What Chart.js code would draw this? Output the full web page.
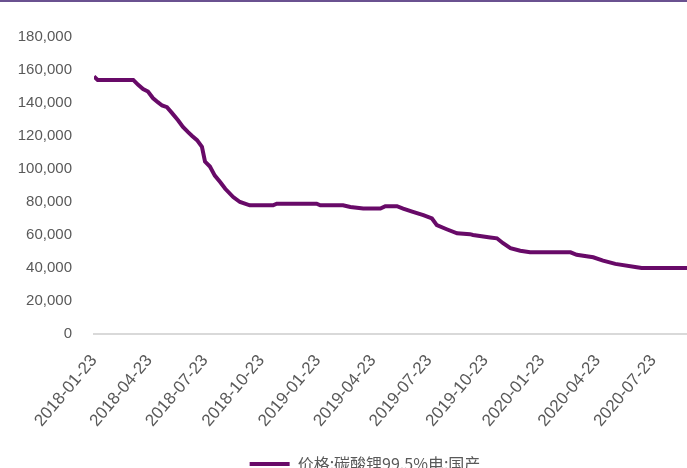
<!DOCTYPE html>
<html><head><meta charset="utf-8">
<script src="https://cdn.jsdelivr.net/npm/chart.js@4/dist/chart.umd.min.js"></script>
<style>
html,body{margin:0;padding:0;width:687px;height:468px;overflow:hidden;background:#fff;}
#wrap{position:relative;width:687px;height:468px;overflow:hidden;}
#c{position:absolute;left:0;top:0;}
#topline{position:absolute;left:0;top:0;width:687px;height:2px;background:#6a5190;}
</style></head><body>
<div id="wrap"><canvas id="c" width="730" height="482"></canvas><div id="topline"></div></div>
<script>
const seriesName = '价格:碳酸锂99.5%电:国产';
const dates = ['2018-01-23','2018-01-29','2018-03-28','2018-04-05','2018-04-13','2018-04-21','2018-04-29','2018-05-07','2018-05-14','2018-05-22','2018-05-30','2018-06-09','2018-06-17','2018-06-25','2018-07-02','2018-07-10','2018-07-18','2018-07-23','2018-07-31','2018-08-08','2018-08-17','2018-08-25','2018-09-07','2018-09-18','2018-10-04','2018-11-11','2018-11-17','2019-01-21','2019-01-27','2019-03-05','2019-03-17','2019-04-07','2019-05-05','2019-05-13','2019-06-01','2019-06-11','2019-06-27','2019-07-14','2019-07-28','2019-08-05','2019-08-21','2019-09-07','2019-09-28','2019-10-03','2019-10-31','2019-11-11','2019-11-21','2019-12-03','2019-12-19','2020-01-04','2020-03-10','2020-03-20','2020-04-16','2020-05-02','2020-05-22','2020-06-26','2020-07-04','2020-09-18'];
const prices = [156000,154000,154000,151000,148500,147000,143000,140500,138500,137500,134000,129500,125500,122500,120000,117500,113500,104500,101500,96000,92000,88000,83000,80000,78000,78000,79000,79000,78000,78000,77000,76000,76000,77500,77500,76000,74000,72000,70000,66000,63500,61000,60500,60000,58500,58000,55000,52000,50500,49500,49500,48000,46500,44500,42500,40500,40000,40000];
const tickDates = ['2018-01-23','2018-04-23','2018-07-23','2018-10-23','2019-01-23','2019-04-23','2019-07-23','2019-10-23','2020-01-23','2020-04-23','2020-07-23'];
const yTicks = [0,20000,40000,60000,80000,100000,120000,140000,160000,180000];

const origin = Date.UTC(2018,0,23);
function dayOf(s){const p=s.split('-').map(Number);return Math.round((Date.UTC(p[0],p[1]-1,p[2])-origin)/86400000);}
const points = dates.map((d,i)=>({x:dayOf(d), y:prices[i]}));
const tickDays = tickDates.map(dayOf);
const LINE = '#680a68';
const TXT = '#595959';

new Chart(document.getElementById('c'), {
  type:'line',
  data:{datasets:[{label:seriesName,data:points,borderColor:LINE,backgroundColor:LINE,borderWidth:4,pointRadius:0,tension:0,pointStyle:'line'}]},
  options:{
    responsive:false,animation:false,
    layout:{padding:{top:37,left:0,right:0,bottom:0}},
    plugins:{
      tooltip:{enabled:false},
      legend:{position:'bottom',align:'center',
        labels:{usePointStyle:true,pointStyle:'line',pointStyleWidth:40,color:TXT,padding:10,
          font:{family:'"Noto Sans CJK SC", "Liberation Sans", sans-serif',size:16}}}
    },
    scales:{
      x:{type:'linear',min:0,max:1037,
        grid:{display:false},
        border:{display:true,color:'#d9d9d9',width:2},
        afterBuildTicks(s){s.ticks=tickDays.map(v=>({value:v}));},
        afterFit(s){s.paddingLeft=0;s.paddingRight=0;s.height=s.chart.height-s.chart.legend.height-334;},
        ticks:{autoSkip:false,maxRotation:50,minRotation:50,padding:9,color:TXT,
          font:{family:'"Liberation Sans", sans-serif',size:17},
          callback(v){const i=tickDays.indexOf(v);return i>=0?tickDates[i]:'';}}
      },
      y:{min:0,max:180000,
        grid:{display:false,drawTicks:false},
        border:{display:false},
        afterBuildTicks(s){s.ticks=yTicks.map(v=>({value:v}));},
        afterFit(s){s.width=94;},
        ticks:{padding:22,color:TXT,font:{family:'"Liberation Sans", sans-serif',size:15},
          callback(v){return v.toLocaleString('en-US');}}
      }
    }
  }
});
</script>
</body></html>
